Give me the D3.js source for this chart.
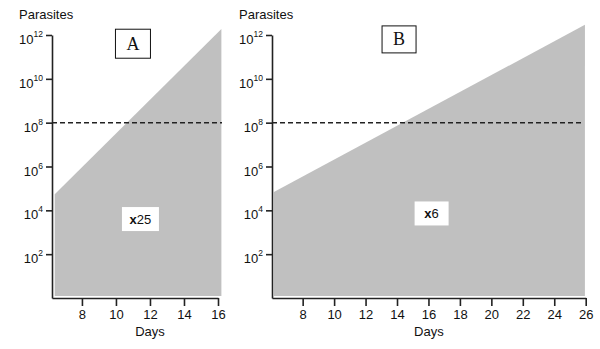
<!DOCTYPE html>
<html>
<head>
<meta charset="utf-8">
<script src="https://cdn.jsdelivr.net/npm/d3@7"></script>
<style>
  body { margin: 0; background: #fff; }
  text { font-family: "Liberation Sans", Arial, sans-serif; fill: #111; }
  text.serif { font-family: "Liberation Serif", "Times New Roman", serif; }
</style>
</head>
<body>
<svg id="chart" width="600" height="349"></svg>
<script>
// data
const panelNames = ["A", "B"];
const foldLabels = ["25", "6"];
const startDays = [6.4, 6.17];
const endDays = [16.2, 25.95];
const startParasites = [5.4e4, 6.9e4];
const endParasites = [1.86e12, 2.9e12];
const threshold = 1e8;
const xTicksA = [8, 10, 12, 14, 16];
const xTicksB = [8, 10, 12, 14, 16, 18, 20, 22, 24, 26];
const yTickExps = [2, 4, 6, 8, 10, 12];
// label positions in data units [day, parasites]
const letterPos = [[11, 4e11], [14.13, 6.3e11]];
const foldPos = [[11.44, 4e3], [16.2, 7.2e3]];

const svg = d3.select("#chart");
const axisColor = "#222";

const layouts = [
  { x0: 52, x1: 218, dom: [6.24, 16], ticks: xTicksA, lbl: 19, dashEnd: 222, box: [35, 29], fold: [37, 24] },
  { x0: 272, x1: 585.7, dom: [6.05, 26], ticks: xTicksB, lbl: 239, dashEnd: 581, box: [34, 27], fold: [34, 24] }
];

const y = d3.scaleLog().domain([1, 1e12]).range([298, 35]);

panelNames.forEach((name, i) => {
  const L = layouts[i];
  const x = d3.scaleLinear().domain(L.dom).range([L.x0, L.x1]);
  const g = svg.append("g");

  // shaded growth region
  const area = d3.area()
    .x(d => x(d[0]))
    .y0(y(1) - 2)
    .y1(d => y(d[1]));
  g.append("path")
    .datum([[startDays[i], startParasites[i]], [endDays[i], endParasites[i]]])
    .attr("d", area)
    .attr("fill", "#c0c0c0");

  // threshold
  g.append("line")
    .attr("x1", L.x0).attr("x2", L.dashEnd)
    .attr("y1", y(threshold)).attr("y2", y(threshold))
    .attr("stroke", "#222").attr("stroke-width", 1.5)
    .attr("stroke-dasharray", "5,3");

  // axes
  const yAxis = g.append("g")
    .attr("transform", `translate(${L.x0},0)`)
    .call(d3.axisLeft(y).tickValues(yTickExps.map(e => Math.pow(10, e)))
      .tickSize(6).tickSizeOuter(0).tickFormat(""));
  yAxis.selectAll("path, line").attr("stroke", axisColor).attr("stroke-width", 1.6);

  yTickExps.forEach(e => {
    const t = g.append("text")
      .attr("x", L.x0 - 9)
      .attr("y", y(Math.pow(10, e)) + 9)
      .attr("text-anchor", "end")
      .attr("font-size", 13);
    t.append("tspan").text("10");
    t.append("tspan").attr("font-size", 8.5).attr("dy", -7).text(e);
  });

  const xAxis = g.append("g")
    .attr("transform", `translate(0,${y(1)})`)
    .call(d3.axisBottom(x).tickValues(L.ticks).tickSize(8).tickSizeOuter(0).tickPadding(4));
  xAxis.selectAll("path, line").attr("stroke", axisColor).attr("stroke-width", 1.6);
  xAxis.selectAll("text").attr("font-size", 13).attr("fill", "#111");

  g.append("text")
    .attr("x", (L.x0 + L.x1) / 2 + (i === 0 ? 15 : 0))
    .attr("y", 336)
    .attr("text-anchor", "middle")
    .attr("font-size", 13)
    .text("Days");

  g.append("text")
    .attr("x", L.lbl).attr("y", 19)
    .attr("font-size", 13)
    .text("Parasites");

  // panel letter box
  const bx = x(letterPos[i][0]), by = y(letterPos[i][1]);
  g.append("rect")
    .attr("x", bx - L.box[0] / 2).attr("y", by - L.box[1] / 2)
    .attr("width", L.box[0]).attr("height", L.box[1])
    .attr("fill", "#fff").attr("stroke", "#111").attr("stroke-width", 1);
  g.append("text")
    .attr("class", "serif")
    .attr("x", bx).attr("y", by + 6)
    .attr("text-anchor", "middle")
    .attr("font-size", 18)
    .text(name);

  // fold increase label
  const fx = x(foldPos[i][0]), fy = y(foldPos[i][1]);
  g.append("rect")
    .attr("x", fx - L.fold[0] / 2).attr("y", fy - L.fold[1] / 2)
    .attr("width", L.fold[0]).attr("height", L.fold[1])
    .attr("fill", "#fff");
  const ft = g.append("text")
    .attr("x", fx).attr("y", fy + 5)
    .attr("text-anchor", "middle")
    .attr("font-size", 13);
  ft.append("tspan").attr("font-weight", "bold").text("x");
  ft.append("tspan").text(foldLabels[i]);
});
</script>
</body>
</html>
